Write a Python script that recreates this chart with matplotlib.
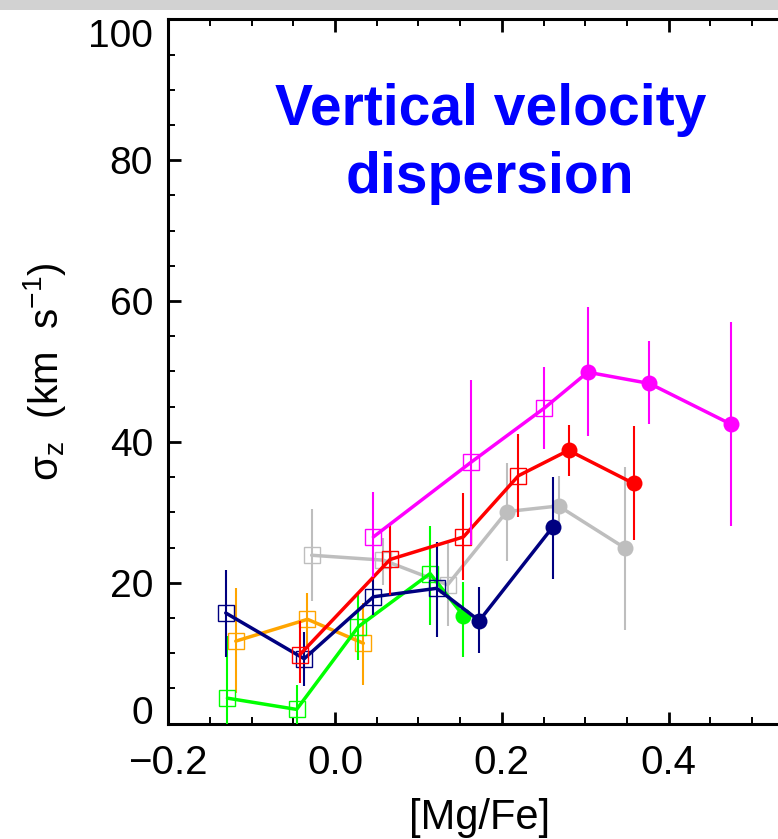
import matplotlib
matplotlib.use("Agg")
import matplotlib.pyplot as plt
from matplotlib.patches import Rectangle
from matplotlib.ticker import MultipleLocator, FixedLocator

plt.rcParams['font.family'] = ['Liberation Sans', 'DejaVu Sans']
plt.rcParams['mathtext.fontset'] = 'custom'
plt.rcParams['mathtext.rm'] = 'Liberation Sans'
plt.rcParams['mathtext.it'] = 'Liberation Sans'

# ---- data ----
mag_x = [0.046, 0.163, 0.251, 0.303, 0.377, 0.475]
mag_y = [26.5, 37.1, 44.8, 49.9, 48.3, 42.5]
mag_lo = [20.8, 25.4, 39.0, 40.8, 42.5, 28.1]
mag_hi = [32.9, 48.8, 50.6, 59.2, 54.4, 57.0]
mag_filled = [False, False, False, True, True, True]

red_x = [-0.042, 0.066, 0.154, 0.220, 0.280, 0.358]
red_y = [9.8, 23.3, 26.5, 35.2, 38.8, 34.1]
red_lo = [5.7, 18.3, 20.4, 29.3, 35.1, 26.1]
red_hi = [14.5, 28.2, 32.7, 41.1, 42.4, 42.2]
red_filled = [False, False, False, False, True, True]

grey_x = [-0.028, 0.058, 0.135, 0.206, 0.268, 0.348]
grey_y = [23.9, 23.2, 19.7, 30.1, 30.9, 24.9]
grey_lo = [17.4, 19.7, 13.8, 23.1, 27.0, 13.3]
grey_hi = [30.4, 26.3, 25.6, 37.0, 35.2, 36.5]
grey_filled = [False, False, False, True, True, True]

navy_x = [-0.131, -0.037, 0.046, 0.122, 0.173, 0.261]
navy_y = [15.7, 9.2, 18.0, 19.2, 14.6, 27.9]
navy_lo = [9.4, 5.3, 15.4, 12.3, 10.0, 20.5]
navy_hi = [21.8, 13.0, 20.9, 25.8, 19.4, 35.0]
navy_filled = [False, False, False, False, True, True]

green_x = [-0.129, -0.046, 0.028, 0.114, 0.154]
green_y = [3.6, 2.0, 13.75, 21.3, 15.3]
green_lo = [-2.0, -2.0, 9.0, 14.0, 9.5]
green_hi = [12.4, 5.5, 18.5, 28.0, 20.1]
green_filled = [False, False, False, False, True]

orange_x = [-0.119, -0.033, 0.034]
orange_y = [11.7, 14.8, 11.4]
orange_lo = [4.3, 11.1, 5.5]
orange_hi = [19.2, 18.5, 17.1]
orange_filled = [False, False, False]

x_ticks = [-0.2, 0.0, 0.2, 0.4, 0.6]
x_ticklabels = ['\u22120.2', '0.0', '0.2', '0.4', '']
y_ticks = [0, 20, 40, 60, 80, 100]
y_ticklabels = ['0', '20', '40', '60', '80', '100']

series = [
    (grey_x, grey_y, grey_lo, grey_hi, grey_filled, '#bebebe'),
    (orange_x, orange_y, orange_lo, orange_hi, orange_filled, '#ffa500'),
    (green_x, green_y, green_lo, green_hi, green_filled, '#00ff00'),
    (navy_x, navy_y, navy_lo, navy_hi, navy_filled, '#000080'),
    (red_x, red_y, red_lo, red_hi, red_filled, '#ff0000'),
    (mag_x, mag_y, mag_lo, mag_hi, mag_filled, '#ff00ff'),
]

W, H = 778, 839
fig = plt.figure(figsize=(W / 100, H / 100), dpi=100)
fig.patch.set_facecolor('white')
fig.patches.append(Rectangle((0, 1 - 10 / H), 1, 10 / H, transform=fig.transFigure,
                             facecolor='#d2d2d2', edgecolor='none', zorder=0))

x0_px, xunit = 335.0, 834.0
left_px = x0_px + (-0.2) * xunit
right_px = x0_px + 0.6 * xunit
ax = fig.add_axes([left_px / W, (H - 723.5) / H, (right_px - left_px) / W, 704.0 / H])
ax.set_xlim(-0.2, 0.6)
ax.set_ylim(0, 100)

z = 2
for xs, ys, lo, hi, filled, c in series:
    ax.vlines(xs, lo, hi, color=c, lw=1.5, zorder=z)
    ax.plot(xs, ys, color=c, lw=2.5, zorder=z + 0.1, solid_capstyle='round')
    xo = [a for a, f in zip(xs, filled) if not f]
    yo = [b for b, f in zip(ys, filled) if not f]
    xf = [a for a, f in zip(xs, filled) if f]
    yf = [b for b, f in zip(ys, filled) if f]
    if xo:
        ax.plot(xo, yo, 's', mfc='none', mec=c, ms=12, mew=1.0, zorder=z + 0.2)
    if xf:
        ax.plot(xf, yf, 'o', color=c, ms=11.5, mew=0, zorder=z + 0.3)
    z += 1

for s in ax.spines.values():
    s.set_linewidth(2.2)
ax.xaxis.set_major_locator(FixedLocator(x_ticks))
ax.set_xticklabels(x_ticklabels)
ax.yaxis.set_major_locator(FixedLocator(y_ticks))
ax.set_yticklabels(y_ticklabels)
ax.xaxis.set_minor_locator(MultipleLocator(0.05))
ax.yaxis.set_minor_locator(MultipleLocator(5))
ax.tick_params(which='both', direction='in', top=True, right=True)
ax.tick_params(which='major', length=9, width=2.0)
ax.tick_params(which='minor', length=5, width=1.4)
ax.tick_params(axis='x', which='major', labelsize=29, pad=15)
ax.tick_params(axis='y', which='major', labelsize=28, pad=11)

yt = ax.yaxis.get_major_ticks()
yt[0].label1.set_verticalalignment('baseline')
yt[-1].label1.set_verticalalignment('top')

fig.text(480 / W, 1 - 838 / H, '[Mg/Fe]', ha='center', va='bottom', fontsize=30)
fig.text(45 / W, 1 - 371.5 / H, 'σ$_\\mathregular{z}$  (km  s$^\\mathregular{-1}$)',
         rotation=90, ha='center', va='center', fontsize=29)

fig.text(491 / W, 1 - 125 / H, 'Vertical velocity', ha='center', va='baseline',
         fontsize=41, fontweight='bold', color='#0000ff')
fig.text(490 / W, 1 - 193 / H, 'dispersion', ha='center', va='baseline',
         fontsize=41, fontweight='bold', color='#0000ff')

fig.savefig('out.png', dpi=100)
